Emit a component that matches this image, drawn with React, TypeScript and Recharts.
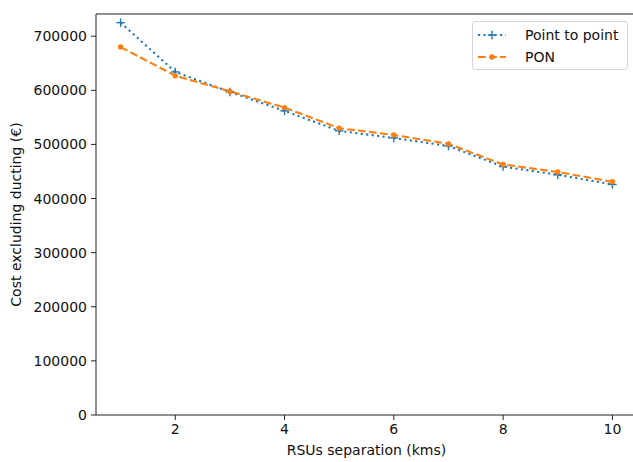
import { Line, LineChart, ReferenceLine, XAxis, YAxis } from "recharts";

const separationKms = [1, 2, 3, 4, 5, 6, 7, 8, 9, 10];
const pointToPoint = [725000, 634000, 597000, 562000, 525000, 512000, 497000, 459000, 444000, 426000];
const pon = [680000, 627000, 598000, 568000, 530000, 517500, 501000, 463000, 449000, 431000];
const xTicks = [2, 4, 6, 8, 10];
const yTicks = [0, 100000, 200000, 300000, 400000, 500000, 600000, 700000];
const yMax = 741000;

const BLUE = "#1f77b4";
const ORANGE = "#ff7f0e";
const FONT = "'DejaVu Sans', sans-serif";

const data = separationKms.map((km, i) => ({ km, p2p: pointToPoint[i], pon: pon[i] }));

function PlusDot(props: any) {
  const { cx, cy } = props;
  if (cx == null || cy == null) return null;
  return (
    <g stroke={BLUE} strokeWidth={1.4}>
      <line x1={cx - 4.2} y1={cy} x2={cx + 4.2} y2={cy} />
      <line x1={cx} y1={cy - 4.2} x2={cx} y2={cy + 4.2} />
    </g>
  );
}

function PointDot(props: any) {
  const { cx, cy } = props;
  if (cx == null || cy == null) return null;
  return <circle cx={cx} cy={cy} r={2.7} fill={ORANGE} />;
}

function LegendBox() {
  const rows = [
    { label: "Point to point", color: BLUE, dash: "2.1 3.4", marker: "plus" },
    { label: "PON", color: ORANGE, dash: "7.7 3.3", marker: "dot" },
  ];
  return (
    <svg width={157} height={50} style={{ display: "block" }}>
      <rect x={0.5} y={0.5} width={155} height={48} rx={3} fill="white" fillOpacity={0.8} stroke="#d4d4d4" />
      {rows.map((r, i) => {
        const y = 14 + i * 22;
        return (
          <g key={r.label}>
            <line x1={6} x2={34} y1={y} y2={y} stroke={r.color} strokeWidth={2.1} strokeDasharray={r.dash} />
            {r.marker === "plus" ? (
              <g stroke={r.color} strokeWidth={1.4}>
                <line x1={15.8} x2={24.2} y1={y} y2={y} />
                <line x1={20} x2={20} y1={y - 4.2} y2={y + 4.2} />
              </g>
            ) : (
              <circle cx={20} cy={y} r={2.7} fill={r.color} />
            )}
            <text x={53} y={y} dy="0.35em" fontSize={14} fontFamily={FONT} fill="#111">
              {r.label}
            </text>
          </g>
        );
      })}
    </svg>
  );
}

export default function App() {
  return (
    <div style={{ position: "absolute", left: 0, top: 0, width: 633, height: 462, overflow: "hidden", background: "white" }}>
      <LineChart width={640} height={462} data={data} margin={{ top: 14, right: 3, left: 0, bottom: 0 }}>
        <XAxis
          dataKey="km"
          type="number"
          domain={[0.55, 10.45]}
          allowDataOverflow
          ticks={xTicks}
          tickSize={5}
          tickMargin={4}
          height={47}
          stroke="#222"
          tick={{ fill: "#111", fontSize: 14, fontFamily: FONT }}
          label={{ value: "RSUs separation (kms)", position: "insideBottom", offset: 7, style: { fill: "#111", fontSize: 14, fontFamily: FONT } }}
        />
        <YAxis
          type="number"
          domain={[0, yMax]}
          ticks={yTicks}
          allowDataOverflow
          tickSize={5}
          tickMargin={4}
          width={96}
          stroke="#222"
          tick={{ fill: "#111", fontSize: 14, fontFamily: FONT }}
          label={{ value: "Cost excluding ducting (€)", angle: -90, position: "insideLeft", offset: 16, style: { textAnchor: "middle", fill: "#111", fontSize: 14, fontFamily: FONT } }}
        />
        <ReferenceLine y={yMax} stroke="#222" strokeWidth={1.1} />
        <Line
          dataKey="p2p"
          name="Point to point"
          stroke={BLUE}
          strokeWidth={2.1}
          strokeDasharray="2.1 3.4"
          dot={<PlusDot />}
          activeDot={false}
          isAnimationActive={false}
        />
        <Line
          dataKey="pon"
          name="PON"
          stroke={ORANGE}
          strokeWidth={2.1}
          strokeDasharray="7.7 3.3"
          dot={<PointDot />}
          activeDot={false}
          isAnimationActive={false}
        />
      </LineChart>
      <div style={{ position: "absolute", left: 629, top: 16, width: 6, height: 398, background: "white" }} />
      <div style={{ position: "absolute", left: 472, top: 21 }}>
        <LegendBox />
      </div>
    </div>
  );
}
